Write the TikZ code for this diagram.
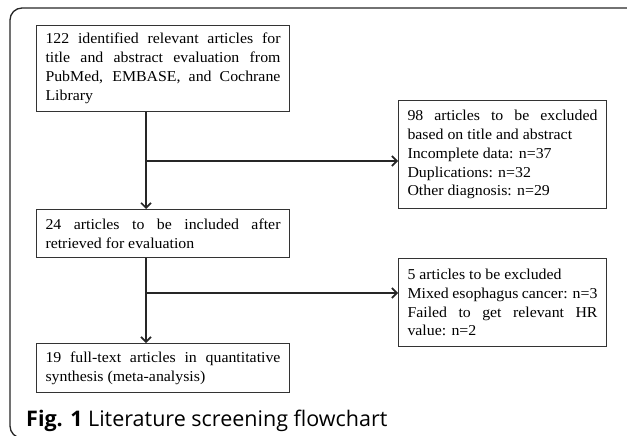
\documentclass[tikz,border=0pt]{standalone}
\usepackage{fontspec}
\setmainfont{Liberation Serif}[FakeStretch=1.05]
\newfontfamily\capfont{Open Sans}
\usetikzlibrary{arrows.meta}
\hyphenpenalty=10000
\exhyphenpenalty=10000
\begin{document}
\begin{tikzpicture}[x=1pt,y=-1pt,
  boxa/.style={draw=black!80, line width=1pt, text width=#1, inner xsep=9pt, inner ysep=0pt,
    anchor=north west, align=justify, font=\fontsize{15.1}{18.9}\selectfont},
  flow/.style={line width=1.6pt, draw=black!85},
  arr/.style={flow, -{Straight Barb[length=5pt,width=10pt,line width=1.6pt]}},
  frame/.style={line width=1.3pt, draw=black!85, rounded corners=12pt}
]
\useasboundingbox (0,0) rectangle (627,436);
\begin{scope}
\clip (0,0) rectangle (627,436);
\draw[frame] (660,8) -- (10,8) -- (10,438) -- (660,438);
\end{scope}

\node[boxa=235pt, minimum height=86pt] (b1) at (36,25)
  {122 identified relevant articles for\linebreak title and abstract evaluation from\linebreak PubMed, EMBASE, and Cochrane\linebreak Library};
\node[boxa=235pt, minimum height=48pt] (b2) at (36,209)
  {24 articles to be included after\linebreak retrieved for evaluation};
\node[boxa=190pt, minimum height=108pt] (b3) at (398,100)
  {98 articles to be excluded\linebreak based on title and abstract\\ Incomplete data: n=37\\ Duplications: n=32\\ Other diagnosis: n=29};
\node[boxa=190pt, minimum height=88pt] (b4) at (398,258)
  {5 articles to be excluded\\ Mixed esophagus cancer: n=3\\ Failed to get relevant HR\linebreak value: n=2};
\node[boxa=235pt, minimum height=49pt] (b5) at (36,343)
  {19 full-text articles in quantitative\linebreak synthesis (meta-analysis)};

\coordinate (j1) at (146,161);
\coordinate (j2) at (146,293);

\draw[flow] (b1.south -| j1) -- (j1);
\draw[arr] (j1) -- (b2.north -| j1);
\draw[arr] (j1) -- (j1 -| b3.west);
\draw[flow] (b2.south -| j2) -- (j2);
\draw[arr] (j2) -- (b5.north -| j2);
\draw[arr] (j2) -- (j2 -| b4.west);

\node[anchor=base west, inner sep=0pt, font=\capfont\fontsize{21.5}{25}\selectfont] (cap) at (26,426)
  {\textbf{Fig. 1} Literature screening flowchart};
\end{tikzpicture}
\end{document}
